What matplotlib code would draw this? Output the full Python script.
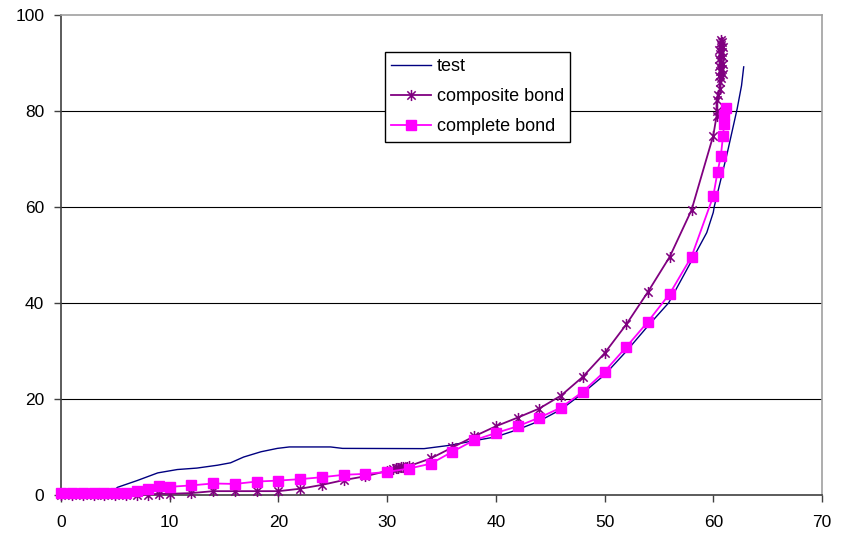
import matplotlib
matplotlib.use("Agg")
import matplotlib.pyplot as plt
from matplotlib.path import Path

plt.rcParams['font.family'] = ['Liberation Sans', 'DejaVu Sans']

# ---- data ----
test_x = [0, 4.5, 5.2, 7.0, 8.9, 10.7, 12.5, 14.4, 15.6, 16.8, 18.4, 19.9, 21.0, 24.8, 25.9,
          33.4, 35.8, 38.0, 40.0, 42.0, 44.0, 46.0, 48.0, 50.0, 52.0, 54.0, 55.9, 57.9,
          59.4, 60.0, 60.1, 61.3, 62.2, 62.6, 62.8]
test_y = [0, 0.3, 1.7, 3.1, 4.7, 5.4, 5.7, 6.3, 6.8, 8.0, 9.1, 9.8, 10.1, 10.1, 9.8,
          9.75, 10.45, 11.4, 12.2, 13.7, 15.5, 17.9, 21.3, 25.1, 30.0, 35.3, 40.1, 48.4,
          54.7, 58.9, 60.2, 71.4, 80.5, 85.3, 89.2]

comp_x = [0, 1, 2, 3, 4, 5, 6, 7, 8, 9, 10, 12, 14, 16, 18, 20, 22, 24, 26, 28, 30,
          30.5, 30.8, 31.0, 31.3, 31.5, 31.8, 32.0,
          34, 36, 38, 40, 42, 44, 46, 48, 50, 52, 54, 56, 58, 60,
          60.3, 60.3, 60.3, 60.45, 60.6, 60.6,
          60.7, 60.5, 60.9, 60.6, 60.8, 60.5, 60.9, 60.7, 60.5, 60.9, 60.6, 60.8, 60.5,
          60.9, 60.7, 60.6, 60.8, 60.7]
comp_y = [0, 0, 0, 0, 0, 0.05, 0.1, 0.15, 0.2, 0.35, 0.35, 0.5, 0.9, 0.9, 0.9, 0.9, 1.4, 2.2,
          3.2, 4.0, 5.1,
          5.5, 5.7, 5.8, 5.9, 6.0, 6.0, 6.1,
          7.7, 10.0, 12.3, 14.4, 16.2, 18.1, 20.8, 24.7, 29.6, 35.6, 42.4, 49.7, 59.4, 74.9,
          78.9, 80.1, 82.3, 83.4, 84.6, 86.0,
          86.8, 87.3, 87.8, 88.3, 88.8, 89.3, 89.8, 90.3, 90.8, 91.3, 91.8, 92.3, 92.8,
          93.3, 93.7, 94.1, 94.4, 94.7]

full_x = [0, 1, 2, 3, 4, 5, 6, 7, 8, 9, 10, 12, 14, 16, 18, 20, 22, 24, 26, 28, 30, 32, 34,
          36, 38, 40, 42, 44, 46, 48, 50, 52, 54, 56, 58, 60, 60.4, 60.7, 60.9, 61.0, 61.0, 61.2]
full_y = [0.5, 0.5, 0.5, 0.5, 0.5, 0.5, 0.6, 0.9, 1.3, 1.9, 1.8, 2.1, 2.5, 2.4, 2.9, 3.1, 3.4,
          3.8, 4.3, 4.5, 4.9, 5.6, 6.6, 9.1, 11.5, 13.0, 14.4, 16.2, 18.3, 21.6, 25.8, 30.9,
          36.2, 42.0, 49.7, 62.3, 67.4, 70.7, 74.9, 77.3, 79.1, 80.6]

x_ticks = [0, 10, 20, 30, 40, 50, 60, 70]
y_ticks = [0, 20, 40, 60, 80, 100]

# ---- star marker (X + vertical bar) ----
star = Path([(0, -1), (0, 1), (-0.75, -0.75), (0.75, 0.75), (-0.75, 0.75), (0.75, -0.75)],
            [Path.MOVETO, Path.LINETO, Path.MOVETO, Path.LINETO, Path.MOVETO, Path.LINETO])

fig = plt.figure(figsize=(8.46, 5.33), dpi=100)
ax = fig.add_axes([0.0721, 0.0704, 0.8995, 0.9015])

for yv in y_ticks[1:-1]:
    ax.axhline(yv, color='black', lw=0.8, zorder=1)

ax.plot(test_x, test_y, color='#000080', lw=1.0, label='test', zorder=3, clip_on=False)
ax.plot(comp_x, comp_y, color='#800080', lw=1.3, marker=star, markersize=8,
        markeredgecolor='#800080', markeredgewidth=1.1, label='composite bond', zorder=4,
        clip_on=False)
ax.plot(full_x, full_y, color='#FF00FF', lw=1.3, marker='s', markersize=6.5,
        markeredgecolor='#FF00FF', markerfacecolor='#FF00FF', label='complete bond', zorder=5,
        clip_on=False)

ax.set_xlim(0, 70)
ax.set_ylim(0, 100)
ax.set_xticks(x_ticks)
ax.set_yticks(y_ticks)
ax.tick_params(direction='out', length=5, width=1, colors='#404040', labelcolor='black',
               labelsize=12.5)
ax.tick_params(axis='x', pad=9)
ax.tick_params(axis='y', pad=7)

for s in ['left', 'bottom']:
    ax.spines[s].set_color('#404040')
    ax.spines[s].set_linewidth(1.2)
for s in ['top', 'right']:
    ax.spines[s].set_color('#a0a0a0')
    ax.spines[s].set_linewidth(1.2)

leg = ax.legend(loc='upper left', bbox_to_anchor=(0.426, 0.923), borderaxespad=0,
                fontsize=13.0, frameon=True, fancybox=False, framealpha=1,
                edgecolor='black', handlelength=2.2, handletextpad=0.3,
                labelspacing=0.72, borderpad=0.35)
leg.get_frame().set_linewidth(1.0)

fig.savefig('out.png', dpi=100)
